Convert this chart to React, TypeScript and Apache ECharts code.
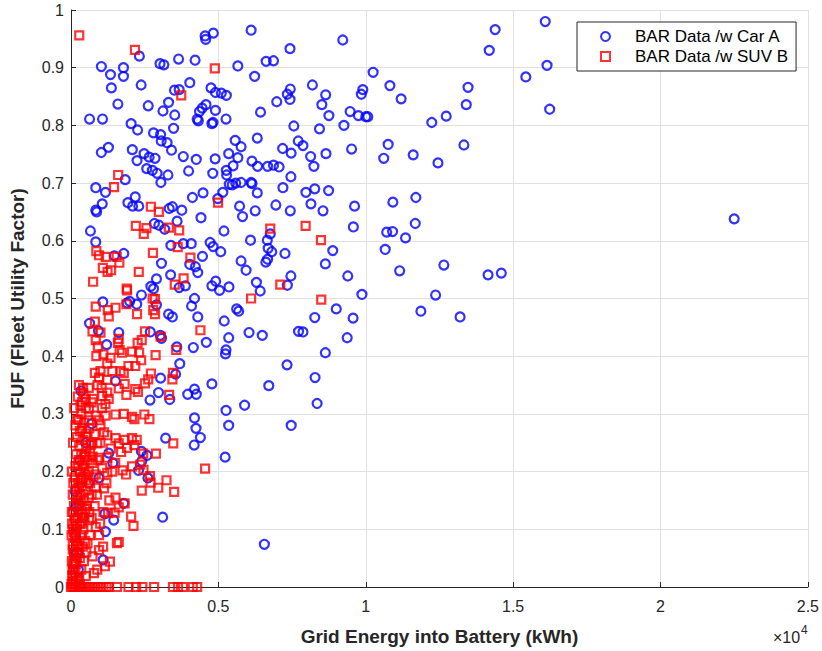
import React, { useEffect, useRef } from "react";
import * as echarts from "echarts";

// x: grid energy into battery (kWh), y: FUF
const carA: [number, number][] = [
  [22500,0.638],
  [9220,0.948],[14390,0.966],[14190,0.930],[16090,0.980],[16150,0.904],[15430,0.884],[16240,0.828],[10250,0.892],
  [8190,0.870],[8640,0.853],[8510,0.836],[8750,0.817],[9470,0.824],[9750,0.817],[9900,0.862],[9850,0.854],[10000,0.815],[10070,0.815],[9260,0.800],[8430,0.794],[10820,0.869],[11200,0.846],[13470,0.866],[13410,0.836],[12730,0.816],[12240,0.805],
  [7870,0.765],[8130,0.746],[8240,0.729],[8650,0.751],[9520,0.759],[10760,0.767],[10610,0.743],[11610,0.749],[12450,0.735],[13330,0.766],
  [7970,0.684],[8270,0.690],[8740,0.687],[8140,0.664],[8550,0.652],[9620,0.660],[10920,0.667],[11700,0.675],[9580,0.624],[10710,0.615],[10910,0.616],[11680,0.630],[11350,0.605],[8880,0.583],[10660,0.585],[8630,0.560],[9390,0.539],[11150,0.548],[12650,0.558],[14150,0.541],[14600,0.544],[9870,0.507],[12370,0.506],
  [9000,0.482],[8270,0.467],[9570,0.466],[11870,0.478],[13200,0.468],[7870,0.442],[9370,0.432],[8630,0.406],[8280,0.363],[8350,0.318],
  [4550,0.955],[4570,0.949],[4830,0.960],[6110,0.965],[7430,0.933],[2320,0.920],[1030,0.902],[1780,0.900],[1340,0.888],[1780,0.885],[3020,0.907],[3150,0.905],[3650,0.915],[4210,0.913],[5660,0.903],[6620,0.911],[6870,0.912],[6230,0.885],[1370,0.865],[2380,0.870],[4030,0.874],[3510,0.861],[3670,0.862],[4750,0.865],[4900,0.857],[5100,0.856],[5270,0.852],[7440,0.863],[7340,0.854],[7430,0.845],
  [1590,0.837],[2620,0.834],[3310,0.840],[3120,0.825],[3520,0.818],[4450,0.830],[4580,0.836],[4360,0.824],[4900,0.826],[4280,0.811],[4320,0.808],[4780,0.803],[4820,0.805],[5260,0.811],[6980,0.841],[6430,0.823],[7560,0.799],[630,0.811],[1070,0.811],[2040,0.803],[2260,0.792],[3480,0.795],[2800,0.787],[3040,0.784],[3060,0.773],[3260,0.770],[3410,0.757],[1030,0.753],[1270,0.762],[2080,0.758],[2240,0.739],[2480,0.751],[2650,0.745],[2850,0.743],[2570,0.725],[2760,0.722],[2920,0.717],[3290,0.714],[3050,0.701],[3810,0.746],[3990,0.721],[4250,0.741],[4890,0.742],[4810,0.717],[5350,0.751],[5500,0.730],[5660,0.744],[5770,0.763],[5570,0.774],[5270,0.722],[5280,0.714],[6320,0.778],[6140,0.738],[6330,0.729],[6670,0.729],[6870,0.731],[7060,0.728],[7180,0.760],[7470,0.752],[7710,0.773],
  [7460,0.711],[5370,0.698],[5470,0.697],[5590,0.700],[5770,0.701],[6110,0.701],[6140,0.699],[6320,0.683],[5150,0.684],[4980,0.673],[4480,0.683],[4120,0.675],[4410,0.640],[5720,0.660],[5820,0.642],[6250,0.652],[6950,0.662],[7440,0.652],[7190,0.692],
  [840,0.692],[1170,0.684],[1060,0.664],[840,0.653],[870,0.650],[1840,0.706],[1930,0.666],[2180,0.676],[2090,0.660],[2300,0.660],[3330,0.656],[3440,0.659],[3760,0.653],[660,0.617],[840,0.598],[3600,0.634],[2830,0.630],[2980,0.627],[3180,0.620],[5190,0.617],[6090,0.601],[6660,0.601],[6760,0.612],[6690,0.587],[6810,0.581],[6670,0.568],[6610,0.563],[7260,0.578],[3390,0.592],[3810,0.595],[4080,0.595],[4720,0.597],[4820,0.590],[5080,0.581],[4460,0.573],[4030,0.559],[4220,0.555],[4300,0.545],[3070,0.561],[5770,0.565],[5940,0.549],[6290,0.528],[6420,0.513],[7460,0.539],[7340,0.523],[1470,0.574],[1790,0.578],[4910,0.530],[4780,0.522],[5040,0.514],[5360,0.520],[3380,0.541],[2900,0.534],[2710,0.521],[2800,0.517],[3670,0.519],[3880,0.522],[4190,0.500],[2390,0.506],[1080,0.494],
  [1900,0.492],[1990,0.495],[2230,0.490],[2900,0.489],[4090,0.487],[4300,0.468],[3310,0.473],[3440,0.468],[5620,0.482],[5690,0.478],[5200,0.461],[6040,0.441],[6490,0.436],[7720,0.443],[5350,0.432],[5260,0.411],[5240,0.404],[4590,0.424],[4150,0.415],[3590,0.416],[3690,0.387],[7330,0.385],[6710,0.349],[4780,0.352],[4190,0.343],[4250,0.334],[3960,0.334],[3350,0.325],[2970,0.337],[2680,0.324],[3040,0.362],[3550,0.369],[3030,0.436],[3070,0.431],[2690,0.442],[1620,0.441],[630,0.457],[930,0.444],[1210,0.420],[5890,0.315],[5260,0.306],[5350,0.280],[7470,0.280],[4190,0.293],[4240,0.275],[4390,0.259],[4180,0.246],[3210,0.258],[5230,0.225],[2390,0.235],[2400,0.218],[2580,0.228],[2290,0.202],[2610,0.189],[3110,0.121],[6560,0.074],[340,0.340],[300,0.220],[140,0.166],[1280,0.232],[1420,0.215],[1510,0.357],[700,0.283],[950,0.189],[1150,0.127],[1450,0.116],[1790,0.145],[1170,0.096],[1090,0.047],[280,0.144],[170,0.138],
  [200,0.06],[400,0.12],[600,0.18],[150,0.09],[500,0.25],[250,0.03],
];

const suvB: [number, number][] = [
  [280,0.956],[2170,0.931],[4880,0.899],[3740,0.852],[1600,0.714],[1460,0.693],[4990,0.666],[2710,0.659],[2980,0.650],[2200,0.626],[2560,0.622],[2470,0.612],[3320,0.623],[3670,0.618],[6760,0.621],[7960,0.626],[860,0.582],[950,0.575],[1180,0.572],[1550,0.572],[1640,0.562],[1080,0.553],[1240,0.546],[1360,0.549],[2300,0.546],[2780,0.579],[3620,0.589],[4050,0.571],[750,0.529],[1890,0.517],[3820,0.535],[3520,0.524],[7100,0.524],[2850,0.499],[2770,0.500],[6110,0.500],
  [8480,0.601],[8490,0.498],
  [1900,0.514],[840,0.486],[1250,0.480],[1510,0.484],[1280,0.469],[1880,0.490],[2240,0.473],[2790,0.480],[2850,0.473],[810,0.460],[730,0.443],[1000,0.441],[840,0.428],[910,0.417],[2510,0.443],[2400,0.428],[2260,0.423],[3040,0.434],[4390,0.445],[3570,0.411],[1620,0.430],[1590,0.423],[1650,0.411],[1730,0.406],[2070,0.408],[2310,0.406],[2380,0.393],[2180,0.383],[1950,0.383],[1680,0.374],[1790,0.371],[2870,0.402],[860,0.400],[1100,0.403],[1340,0.397],[1230,0.387],[1400,0.374],[1000,0.374],[810,0.371],[950,0.363],[1230,0.359],[2710,0.370],[2620,0.360],[2510,0.353],[2180,0.343],[2270,0.338],[1880,0.333],[1820,0.352],[1620,0.344],[3460,0.371],[3440,0.360],[3330,0.333],[1230,0.337],[1280,0.326],[1170,0.317],[1040,0.345],[1060,0.331],[750,0.326],[500,0.326],[410,0.345],[610,0.309],[840,0.297],[610,0.289],[950,0.289],[1170,0.297],[1510,0.299],[1790,0.300],[2070,0.295],[2150,0.291],[2490,0.299],[2660,0.291],[370,0.275],[500,0.266],[1120,0.268],[1510,0.258],[1620,0.249],[1820,0.255],[2070,0.258],[2230,0.255],[1230,0.263],[3470,0.249],[670,0.246],[890,0.249],[480,0.226],[730,0.226],[950,0.224],[1230,0.224],[1700,0.234],[1900,0.241],[2150,0.246],[2450,0.231],[2880,0.231],[4550,0.205],[390,0.212],[730,0.215],[1060,0.206],[1230,0.198],[840,0.195],[500,0.195],[340,0.187],[1750,0.202],[1870,0.195],[2070,0.209],[2680,0.192],[2700,0.181],[2350,0.212],[2460,0.203],[3240,0.185],[2960,0.172],[2400,0.167],[3500,0.165],[280,0.172],[500,0.167],[840,0.172],[1120,0.171],[1510,0.155],[1820,0.145],[1620,0.138],[1260,0.128],[2040,0.122],[2120,0.106],[1480,0.129],[220,0.144],[390,0.127],[610,0.116],[840,0.104],[950,0.090],[560,0.076],[60,0.073],[280,0.059],[110,0.041],[730,0.053],[950,0.064],[1620,0.078],[1560,0.076],[1090,0.070],[1320,0.044],[1150,0.036],[890,0.030],[780,0.024],[500,0.019],[280,0.013],[60,0.010],
  [20,0.005],[40,0.02],[90,0.03],[150,0.025],[30,0.045],[120,0.055],[200,0.05],[60,0.065],[170,0.08],[250,0.07],[330,0.09],[100,0.095],[200,0.105],[300,0.11],[420,0.1],[150,0.12],[260,0.13],[350,0.14],[480,0.135],[200,0.155],[320,0.16],[430,0.15],[600,0.155],[250,0.18],[380,0.175],[520,0.185],[650,0.18],[300,0.2],[450,0.205],[600,0.2],[350,0.23],[520,0.24],[640,0.235],[400,0.255],[560,0.26],[300,0.27],[450,0.285],[620,0.275],[350,0.3],[500,0.31],[700,0.32],[420,0.335],[600,0.345],[900,0.35],[80,0.04],[170,0.01],[250,0.015],[350,0.03],[440,0.045],[520,0.06],[640,0.09],[700,0.12],[800,0.14],[880,0.16],[760,0.19],[900,0.22],[1000,0.25],[800,0.265],[1000,0.28],[1100,0.13],[990,0.11],[1300,0.15],[1200,0.18],[1400,0.2],[1350,0.24],[1500,0.215],[1050,0.31],
  [50,0.03],[100,0.06],[130,0.085],[180,0.1],[220,0.12],[100,0.14],[60,0.16],[180,0.17],[120,0.19],[230,0.21],[170,0.23],[280,0.245],[200,0.26],[260,0.29],[150,0.28],[320,0.315],[230,0.33],[380,0.32],[400,0.21],[560,0.22],[700,0.25],[300,0.05],[400,0.07],[480,0.08],[120,0.005],[300,0.004],[40,0.11],[80,0.13],[30,0.2],[70,0.25],[20,0.09],[90,0.02],[160,0.04],[210,0.075],[380,0.11],[460,0.12],[540,0.14],[620,0.13],[700,0.16],[80,0.18],[150,0.21],[260,0.22],[30,0.13],[60,0.1],[110,0.115],[250,0.15],[330,0.185],[410,0.19],[490,0.23],[210,0.29],[110,0.31],[270,0.35],
  [0,0],[60,0],[130,0],[200,0],[280,0],[350,0],[420,0],[500,0],[580,0],[650,0],[730,0],[800,0],[900,0],[1000,0],[1100,0],[1200,0],
  [1280,0],[1560,0],[1950,0],[2210,0],[2420,0],[2820,0],[3460,0],[3630,0],[3800,0],[4130,0],[4280,0],
];

const seriesNames = ["BAR Data /w Car A", "BAR Data /w SUV B"];
const xTitle = "Grid Energy into Battery (kWh)";
const yTitle = "FUF (Fleet Utility Factor)";

const FONT = "'Liberation Sans', Arial, Helvetica, sans-serif";
const AX = "#262626";
const GRID = "#e0e0e0";

export default function App() {
  const ref = useRef<HTMLDivElement>(null);
  useEffect(() => {
    if (!ref.current) return;
    const chart = echarts.init(ref.current, undefined, { renderer: "svg" });
    chart.setOption({
      animation: false,
      backgroundColor: "#fff",
      textStyle: { fontFamily: FONT },
      grid: { left: 65, right: 11, top: 10, bottom: 55, containLabel: false },
      legend: {
        orient: "vertical",
        left: 577,
        top: 22,
        backgroundColor: "#fff",
        borderColor: AX,
        borderWidth: 1,
        borderRadius: 0,
        padding: [6, 8, 6, 23],
        itemGap: 3,
        itemWidth: 9,
        itemHeight: 9,
        textStyle: { fontSize: 17, lineHeight: 17, color: "#000", fontFamily: FONT, padding: [0, 0, 0, 20] },
        data: [
          { name: seriesNames[0], icon: "circle", itemStyle: { color: "rgba(0,0,0,0)", borderColor: "#0000ff", borderWidth: 2 } },
          { name: seriesNames[1], icon: "rect", itemStyle: { color: "rgba(0,0,0,0)", borderColor: "#ff0000", borderWidth: 2 } },
        ],
      },
      xAxis: {
        type: "value",
        min: 0,
        max: 25000,
        interval: 5000,
        name: xTitle,
        nameLocation: "middle",
        nameGap: 40,
        nameTextStyle: { fontWeight: "bold", fontSize: 19, color: AX, fontFamily: FONT },
        axisLine: { show: true, onZero: false, lineStyle: { color: AX, width: 1 } },
        axisTick: { show: true, inside: true, length: 5, lineStyle: { color: AX, width: 1 } },
        axisLabel: { formatter: (v: number) => String(v / 10000), fontSize: 16, color: AX, margin: 11, fontFamily: FONT },
        splitLine: { show: true, lineStyle: { color: GRID, width: 1 } },
      },
      yAxis: {
        type: "value",
        min: 0,
        max: 1,
        interval: 0.1,
        name: yTitle,
        nameLocation: "middle",
        nameGap: 44,
        nameRotate: 90,
        nameTextStyle: { fontWeight: "bold", fontSize: 19, color: AX, fontFamily: FONT },
        axisLine: { show: true, onZero: false, lineStyle: { color: AX, width: 1 } },
        axisTick: { show: true, inside: true, length: 5, lineStyle: { color: AX, width: 1 } },
        axisLabel: { formatter: (v: number) => String(+v.toFixed(1)), fontSize: 16, color: AX, margin: 7, fontFamily: FONT },
        splitLine: { show: true, lineStyle: { color: GRID, width: 1 } },
      },
      graphic: [
        { type: "text", left: 773, top: 629, style: { text: "×10", fontSize: 16, fill: AX, fontFamily: FONT } },
        { type: "text", left: 801, top: 624, style: { text: "4", fontSize: 12, fill: AX, fontFamily: FONT } },
      ],
      series: [
        {
          name: seriesNames[0],
          type: "scatter",
          data: carA,
          symbol: "circle",
          symbolSize: 9,
          silent: true,
          itemStyle: { color: "rgba(0,0,0,0)", borderColor: "#0000ff", borderWidth: 2.2 },
        },
        {
          name: seriesNames[1],
          type: "scatter",
          data: suvB,
          symbol: "rect",
          symbolSize: 8,
          silent: true,
          itemStyle: { color: "rgba(0,0,0,0)", borderColor: "#ff0000", borderWidth: 2.2 },
        },
      ],
    });
    return () => chart.dispose();
  }, []);
  return <div ref={ref} style={{ position: "absolute", left: 0, top: 0, width: 822, height: 651 }} />;
}
